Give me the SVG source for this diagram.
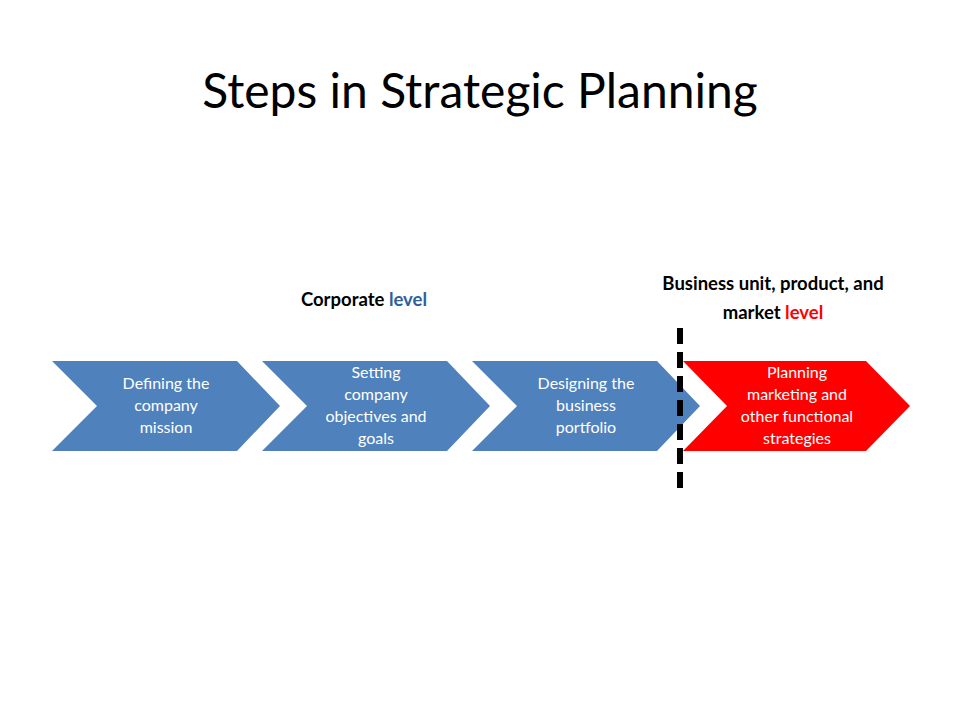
<svg xmlns="http://www.w3.org/2000/svg" width="960" height="720" viewBox="0 0 960 720">
<style>
.t{font-family:Lato,"Open Sans","Liberation Sans",sans-serif;}
.c{font-size:16px;fill:#fff;text-anchor:middle}
.h{font-size:18.5px;font-weight:bold;fill:#000;text-anchor:middle}
</style>
<rect width="960" height="720" fill="#fff"/>
<text class="t" x="480" y="108" font-size="48" text-anchor="middle">Steps in Strategic Planning</text>
<text class="t h" x="364" y="306">Corporate <tspan fill="#2e5f9c">level</tspan></text>
<text class="t h" x="773" y="290">Business unit, product, and</text>
<text class="t h" x="773" y="319">market <tspan fill="#ff0000">level</tspan></text>
<g id="step1"><polygon points="52,361 237,361 280,406 237,451 52,451 97,406" fill="#4f81bd"/>
<text class="t c"><tspan x="166" y="389">Defining the</tspan><tspan x="166" y="411">company</tspan><tspan x="166" y="433">mission</tspan></text></g>
<g id="step2"><polygon points="262,361 447,361 490,406 447,451 262,451 307,406" fill="#4f81bd"/>
<text class="t c"><tspan x="376" y="378">Setting</tspan><tspan x="376" y="400">company</tspan><tspan x="376" y="422">objectives and</tspan><tspan x="376" y="444">goals</tspan></text></g>
<g id="step3"><polygon points="472,361 657,361 700,406 657,451 472,451 517,406" fill="#4f81bd"/>
<text class="t c"><tspan x="586" y="389">Designing the</tspan><tspan x="586" y="411">business</tspan><tspan x="586" y="433">portfolio</tspan></text></g>
<g id="step4"><polygon points="683,361 866,361 910,406 866,451 683,451 727,406" fill="#ff0000"/>
<text class="t c"><tspan x="797" y="378">Planning</tspan><tspan x="797" y="400">marketing and</tspan><tspan x="797" y="422">other functional</tspan><tspan x="797" y="444">strategies</tspan></text></g>
<g id="connectors"><line x1="680" y1="328" x2="680" y2="490" stroke="#000" stroke-width="6" stroke-dasharray="16 8"/></g>
</svg>
